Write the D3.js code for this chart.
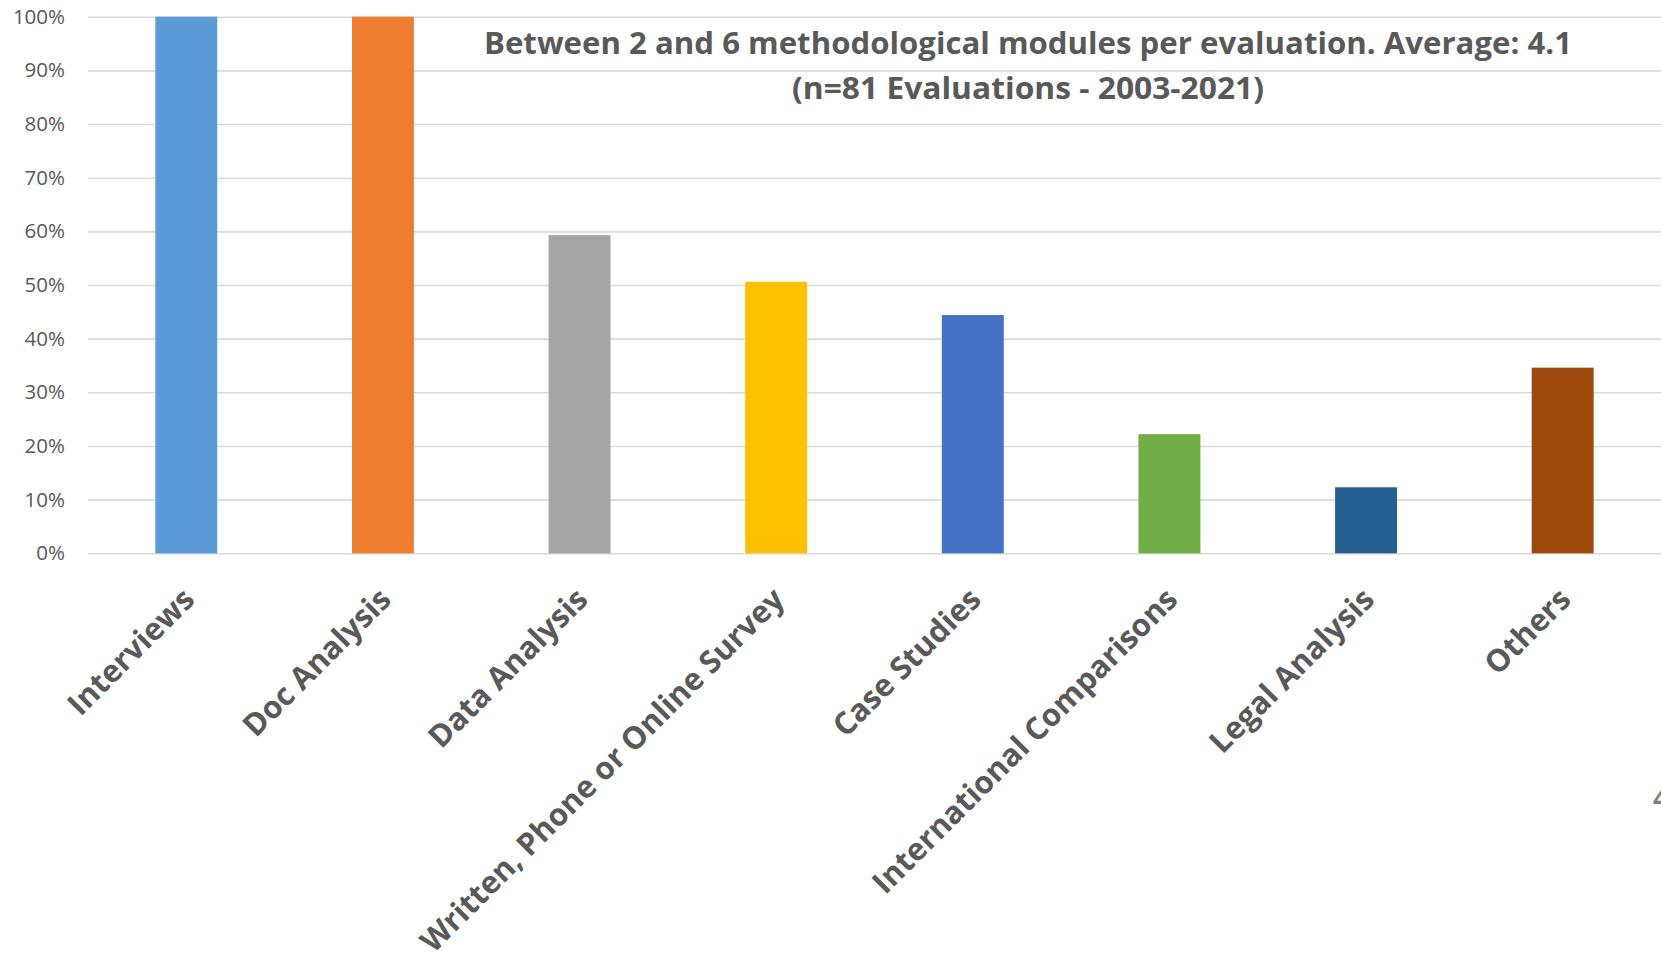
<!DOCTYPE html>
<html>
<head>
<meta charset="utf-8">
<script src="https://cdn.jsdelivr.net/npm/d3@7"></script>
<style>
  html, body { margin: 0; padding: 0; background: #fff; overflow: hidden; }
  svg { display: block; }
</style>
</head>
<body>
<svg id="chart" width="1661" height="954"></svg>
<script>
// Share of evaluations using each methodological module (percent)
const categories = [
  "Interviews", "Doc Analysis", "Data Analysis", "Written, Phone or Online Survey",
  "Case Studies", "International Comparisons", "Legal Analysis", "Others"
];
const shares = [100, 100, 59.3, 50.6, 44.4, 22.2, 12.3, 34.6];
const barColors = ["#5B9BD5", "#ED7D31", "#A5A5A5", "#FFC000", "#4472C4", "#70AD47", "#255E91", "#9E480E"];
const yTicks = [0, 10, 20, 30, 40, 50, 60, 70, 80, 90, 100];
const titleLines = [
  "Between 2 and 6 methodological modules per evaluation. Average: 4.1",
  "(n=81 Evaluations - 2003-2021)"
];

const svg = d3.select("#chart");
const textGrey = "#595959";

const plot = { left: 88, right: 1661, top: 16.7, bottom: 553.3 };

const x = d3.scaleBand()
  .domain(categories)
  .range([plot.left, plot.right])
  .paddingInner(0.685)
  .paddingOuter(0.3425);

const y = d3.scaleLinear()
  .domain([0, 100])
  .range([plot.bottom, plot.top]);

// Horizontal gridlines + percent labels
const yAxis = d3.axisLeft(y)
  .tickValues(yTicks)
  .tickFormat(d => d + "%")
  .tickSize(-(plot.right - plot.left))
  .tickPadding(23);

const gy = svg.append("g")
  .attr("transform", `translate(${plot.left},0)`)
  .call(yAxis);
gy.select(".domain").remove();
gy.selectAll(".tick line")
  .attr("stroke", "#d9d9d9")
  .attr("stroke-width", 1.6);
gy.selectAll(".tick text")
  .attr("fill", textGrey)
  .style("font-family", "'Open Sans', sans-serif")
  .style("font-size", "20.5px");

// Bars
svg.append("g")
  .selectAll("rect")
  .data(categories)
  .join("rect")
  .attr("x", d => x(d))
  .attr("width", x.bandwidth())
  .attr("y", (d, i) => y(shares[i]))
  .attr("height", (d, i) => y(0) - y(shares[i]))
  .attr("fill", (d, i) => barColors[i]);

// Rotated category labels
const xAxis = d3.axisBottom(x).tickSize(0).tickPadding(0);
const gx = svg.append("g")
  .attr("transform", `translate(0,${plot.bottom})`)
  .call(xAxis);
gx.select(".domain").remove();
gx.selectAll(".tick text")
  .attr("fill", textGrey)
  .attr("text-anchor", "end")
  .attr("dy", null)
  .attr("y", null)
  .attr("transform", "translate(10,48) rotate(-45)")
  .style("font-family", "'Open Sans', sans-serif")
  .style("font-weight", "700")
  .style("font-size", "31px");

// Title
const title = svg.append("g")
  .attr("fill", textGrey)
  .style("font-family", "'Liberation Sans Narrow', 'Open Sans', sans-serif")
  .style("font-weight", "700")
  .style("font-size", "30px");
title.append("text")
  .attr("x", 1028).attr("y", 54)
  .attr("text-anchor", "middle")
  .attr("textLength", 1088)
  .attr("lengthAdjust", "spacingAndGlyphs")
  .text(titleLines[0]);
title.append("text")
  .attr("x", 1028).attr("y", 99)
  .attr("text-anchor", "middle")
  .attr("textLength", 472)
  .attr("lengthAdjust", "spacingAndGlyphs")
  .text(titleLines[1]);

// Page number peeking in at the right edge
svg.append("text")
  .attr("x", 1653).attr("y", 808)
  .attr("fill", "#7f7f7f")
  .style("font-family", "'Open Sans', sans-serif")
  .style("font-weight", "700")
  .style("font-size", "26px")
  .text("4");
</script>
</body>
</html>
